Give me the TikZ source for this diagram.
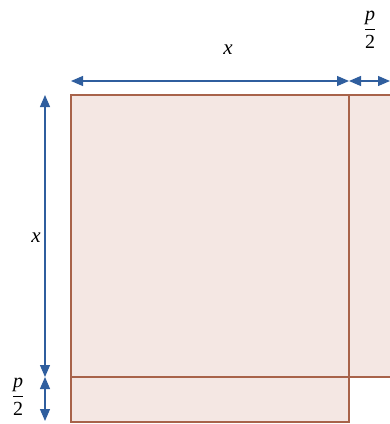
\documentclass[tikz,border=0pt]{standalone}
\usepackage{fontspec}
\setmainfont{Liberation Serif}
\usetikzlibrary{arrows.meta}
\definecolor{fillpink}{HTML}{F4E7E3}
\definecolor{edgebrown}{HTML}{A8634A}
\definecolor{arrowblue}{HTML}{2F5E9E}
\newcommand{\halfp}{$\displaystyle\frac{\mbox{\itshape p}}{\mbox{2}}$}
\begin{document}
\begin{tikzpicture}[x=1pt,y=-1pt,
  region/.style={fill=fillpink,draw=edgebrown,line width=1.6pt},
  dimline/.style={draw=arrowblue,color=arrowblue,line width=1.2pt,
    {Triangle[length=12pt,width=10pt]}-{Triangle[length=12pt,width=10pt]}},
  lbl/.style={font=\fontsize{21}{23}\selectfont\itshape,inner sep=0pt},
  frac/.style={font=\fontsize{20}{22}\selectfont,inner sep=0pt}]
\useasboundingbox (0,0) rectangle (390,424);
% corners
\coordinate (tl) at (71,95);
\coordinate (tr) at (349,95);
\coordinate (br) at (349,377);
\coordinate (bl) at (71,377);
\coordinate (bb) at (349,422);
\coordinate (rr) at (400,377);
% regions
\draw[region] (tl) rectangle (br);
\draw[region] (bl) rectangle (bb);
\draw[region] (tr) rectangle (rr);
% dimension anchors
\coordinate (h1) at (71,81);
\coordinate (h2) at (349,81);
\coordinate (h3) at (390,81);
\coordinate (v1) at (45,95);
\coordinate (v2) at (45,377);
\coordinate (v3) at (45,421);
\draw[dimline] (h1) -- (h2);
\draw[dimline] (h2) -- (h3);
\draw[dimline] (v1) -- (v2);
\draw[dimline] (v2) -- (v3);
% labels
\node[lbl] (lx1) at (228,50) {x};
\node[lbl] (lx2) at (36,238) {x};
\node[frac] (lp1) at (370,30) {\halfp};
\node[frac] (lp2) at (18,397) {\halfp};
\end{tikzpicture}
\end{document}
